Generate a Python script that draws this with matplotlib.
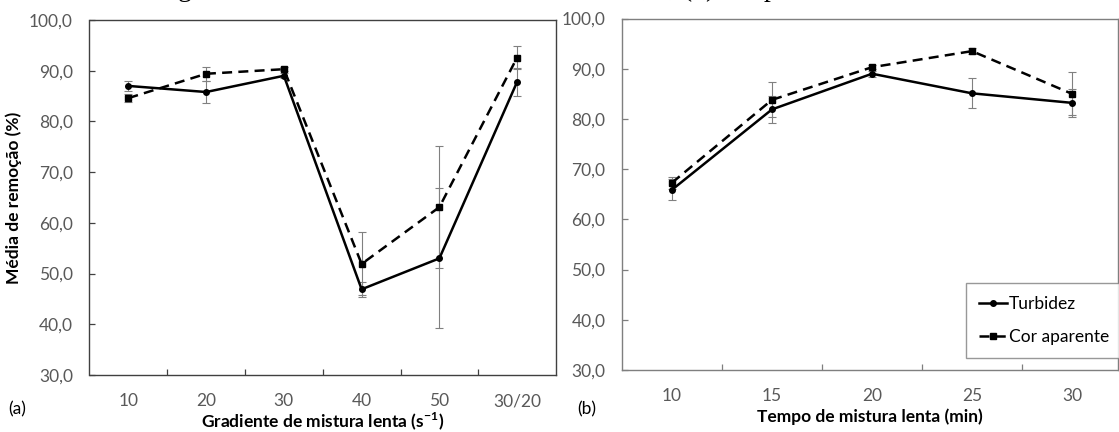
import numpy as np
import matplotlib
matplotlib.use("Agg")
import matplotlib.pyplot as plt
from matplotlib.ticker import FuncFormatter
from matplotlib.lines import Line2D

plt.rcParams['font.family'] = ['Lato', 'DejaVu Sans']

# (a) gradiente de mistura lenta
cat_a = ['10', '20', '30', '40', '50', '30/20']
turb_a = [87.0, 85.8, 89.0, 46.9, 53.0, 87.8]
turb_a_err = [1.0, 2.1, 0.5, 1.5, 13.8, 2.8]
cor_a = [84.6, 89.4, 90.3, 51.9, 63.1, 92.6]
cor_a_err = [0.8, 1.4, 0.4, 6.2, 12.0, 2.3]

# (b) tempo de mistura lenta
cat_b = ['10', '15', '20', '25', '30']
turb_b = [65.9, 81.9, 89.0, 85.1, 83.2]
turb_b_err = [2.1, 2.7, 0.6, 3.0, 2.8]
cor_b = [67.3, 83.8, 90.3, 93.5, 85.0]
cor_b_err = [1.2, 3.5, 0.4, 0.6, 4.3]

W, H = 1119, 432
fig = plt.figure(figsize=(W / 100, H / 100), dpi=100)

def box(l, t, r, b):
    return [l / W, 1 - b / H, (r - l) / W, (b - t) / H]

ax1 = fig.add_axes(box(89.5, 20, 556, 375))
ax2 = fig.add_axes(box(622, 18.5, 1118, 370))

fmt = FuncFormatter(lambda v, p: ('%.1f' % v).replace('.', ','))
tick_col = '#595959'
dash = (0, (4, 2.5))

def draw(ax, cats, t, te, c, ce, spine_col, xmax):
    x = np.arange(len(cats))
    ax.errorbar(x, t, yerr=te, color='black', lw=1.8, marker='o', ms=4,
                ecolor='#808080', elinewidth=0.8, capsize=3, capthick=0.8,
                zorder=3)
    ax.errorbar(x, c, yerr=ce, color='black', lw=1.8, ls=dash,
                marker='s', ms=4.5, ecolor='#808080', elinewidth=0.8,
                capsize=3, capthick=0.8, zorder=3)
    ax.set_xlim(-0.5, xmax)
    ax.set_ylim(30, 100)
    ax.set_xticks(x)
    ax.set_xticklabels(cats)
    ax.set_xticks(np.arange(0.5, len(cats) - 1, 1), minor=True)
    ax.set_yticks(np.arange(30, 101, 10))
    ax.yaxis.set_major_formatter(fmt)
    ax.tick_params(axis='x', which='major', length=0, pad=13,
                   labelsize=12.5, labelcolor=tick_col)
    ax.tick_params(axis='x', which='minor', length=4, direction='in',
                   color=spine_col, width=0.9)
    ax.tick_params(axis='y', length=4, direction='in', pad=12,
                   labelsize=12.5, labelcolor=tick_col, color=spine_col,
                   width=0.9)
    for s in ax.spines.values():
        s.set_color(spine_col)
        s.set_linewidth(1.0)

draw(ax1, cat_a, turb_a, turb_a_err, cor_a, cor_a_err, '#404040', 5.5)
draw(ax2, cat_b, turb_b, turb_b_err, cor_b, cor_b_err, '#7f7f7f', 4.46)

ax1.set_xlabel('Gradiente de mistura lenta (s$^{\\mathregular{-1}}$)',
               fontsize=12.5, fontweight='bold', labelpad=1)
ax1.set_ylabel('Média de remoção (%)', fontsize=12.5, fontweight='bold',
               labelpad=5)
ax2.set_xlabel('Tempo de mistura lenta (min)', fontsize=12.5,
               fontweight='bold', labelpad=3)

fig.text(8 / W, 1 - 409 / H, '(a)', fontsize=12.5, va='center', ha='left')
fig.text(577 / W, 1 - 409 / H, '(b)', fontsize=12.5, va='center', ha='left')

handles = [Line2D([], [], color='black', lw=1.8, marker='o', ms=4),
           Line2D([], [], color='black', lw=1.8, ls=dash, marker='s', ms=4.5)]
leg = ax2.legend(handles, ['Turbidez', 'Cor aparente'], loc='upper left',
                 bbox_to_anchor=(966 / W, 1 - 283 / H),
                 bbox_transform=fig.transFigure, fontsize=12.5,
                 frameon=True, fancybox=False, edgecolor='#7f7f7f',
                 handlelength=1.6, handletextpad=0.1, labelspacing=1.0,
                 borderpad=0.75, borderaxespad=0)
leg.get_frame().set_linewidth(1.0)

fig.text(178 / W, 1 + 4 / H,
         'gradiente médio de velocidade de mistura, e, (b) tempo de mistura lenta',
         fontsize=20, family=['Liberation Serif', 'DejaVu Serif'],
         va='baseline', ha='left')

fig.savefig('out.png', dpi=100)
